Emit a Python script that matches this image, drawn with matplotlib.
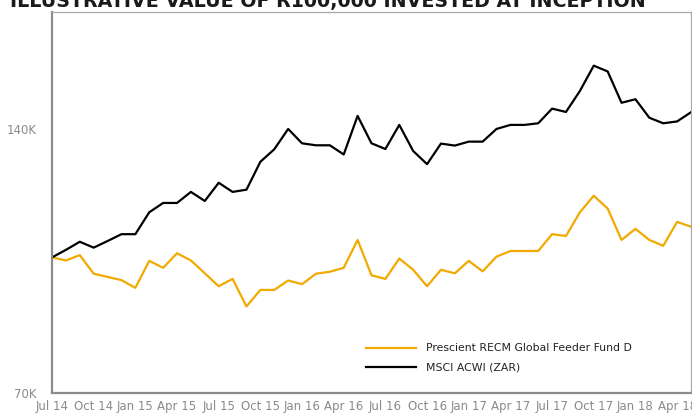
import matplotlib
matplotlib.use("Agg")
import matplotlib.pyplot as plt
from matplotlib.ticker import FixedLocator, NullLocator

plt.rcParams['font.family'] = ['Liberation Sans Narrow', 'DejaVu Sans']

title = "ILLUSTRATIVE VALUE OF R100,000 INVESTED AT INCEPTION"
months = ["Jul 14","Aug 14","Sep 14","Oct 14","Nov 14","Dec 14","Jan 15","Feb 15","Mar 15",
          "Apr 15","May 15","Jun 15","Jul 15","Aug 15","Sep 15","Oct 15","Nov 15","Dec 15",
          "Jan 16","Feb 16","Mar 16","Apr 16","May 16","Jun 16","Jul 16","Aug 16","Sep 16",
          "Oct 16","Nov 16","Dec 16","Jan 17","Feb 17","Mar 17","Apr 17","May 17","Jun 17",
          "Jul 17","Aug 17","Sep 17","Oct 17","Nov 17","Dec 17","Jan 18","Feb 18","Mar 18",
          "Apr 18","May 18"]
fund_name = "Prescient RECM Global Feeder Fund D"
fund = [100.0, 99.2, 100.6, 95.8, 95.0, 94.2, 92.3, 99.1, 97.3, 101.1, 99.2, 95.9, 92.7,
        94.5, 87.9, 91.8, 91.8, 94.1, 93.2, 95.8, 96.3, 97.3, 104.7, 95.4, 94.5, 99.7,
        96.8, 92.7, 96.8, 95.9, 99.1, 96.4, 100.2, 101.7, 101.7, 101.7, 106.3, 105.8,
        112.6, 117.6, 113.7, 104.7, 107.8, 104.7, 103.1, 109.8, 108.4]
bench_name = "MSCI ACWI (ZAR)"
bench = [100.0, 102.0, 104.2, 102.6, 104.4, 106.3, 106.3, 112.6, 115.4, 115.4, 118.8,
         116.0, 121.7, 118.8, 119.5, 128.6, 132.9, 140.2, 135.0, 134.3, 134.3, 131.1,
         145.1, 135.0, 133.0, 141.7, 132.3, 127.8, 134.9, 134.2, 135.6, 135.6, 140.2,
         141.7, 141.7, 142.3, 147.9, 146.6, 154.9, 165.6, 163.1, 150.2, 151.6, 144.4,
         142.3, 143.0, 146.5]
y_ticks = [70, 140]
y_labels = ["70K", "140K"]

fig = plt.figure(figsize=(6.92, 4.16), dpi=100)
W, H = 692, 416
ax = fig.add_axes([52 / W, (H - 393) / H, (691 - 52) / W, (393 - 12) / H])

x = list(range(len(months)))
ax.plot(x, fund, color='#F2A900', lw=1.6, label=fund_name)
ax.plot(x, bench, color='#000000', lw=1.6, label=bench_name)

ax.set_yscale('log')
ax.set_ylim(70, 190.7)
ax.set_xlim(0, len(months) - 1)
ax.yaxis.set_major_locator(FixedLocator(y_ticks))
ax.yaxis.set_minor_locator(NullLocator())
ax.set_yticklabels(y_labels)
ax.set_xticks(x[::3])
ax.set_xticklabels(months[::3])
ax.tick_params(axis='both', length=0, colors='#8a8a8a', labelsize=8.5)
ax.tick_params(axis='y', pad=11)
ax.tick_params(axis='x', pad=5)

for s in ['left', 'bottom']:
    ax.spines[s].set_color('#8c8c8c')
    ax.spines[s].set_linewidth(1.6)
for s in ['top', 'right']:
    ax.spines[s].set_color('#a8a8a8')
    ax.spines[s].set_linewidth(0.9)

leg = ax.legend(loc='lower left', bbox_to_anchor=((362 - 52) / 639, (393 - 377) / 381),
                frameon=False, fontsize=7.8, handlelength=4.6, handletextpad=0.9,
                labelspacing=0.85, borderaxespad=0)
for t in leg.get_texts():
    t.set_color('#222222')

fig.text(328 / W, 1 - 7 / H, title, ha='center', va='baseline', fontsize=13.7,
         fontweight='bold', color='#1a1a1a')

fig.savefig("out.png", dpi=100)
